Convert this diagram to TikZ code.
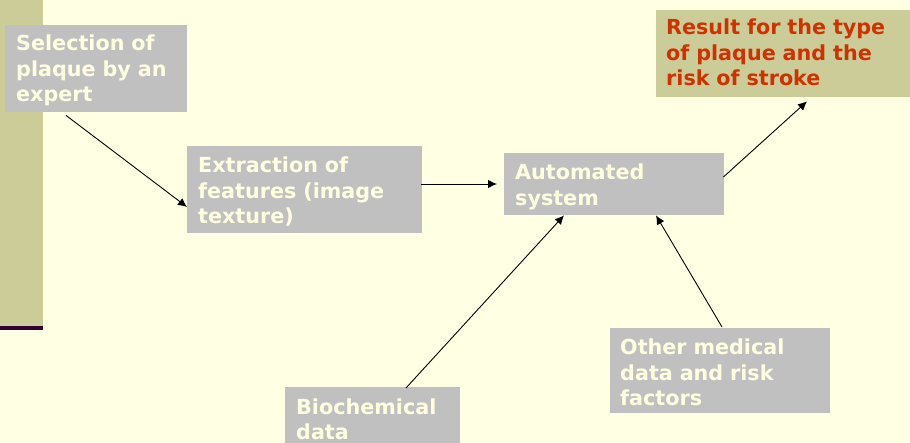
\documentclass[tikz,border=0pt]{standalone}
\usepackage{fontspec}
\setmainfont{DejaVu Sans}
\usetikzlibrary{arrows.meta,calc}
\definecolor{bgc}{HTML}{FFFFE3}
\definecolor{khaki}{HTML}{CCCC99}
\definecolor{greyb}{HTML}{C0C0C0}
\definecolor{cream}{HTML}{FFFFE0}
\definecolor{redt}{HTML}{CC3300}
\definecolor{purp}{HTML}{330033}
\tikzset{
  gbox/.style={draw=none,fill=greyb,inner sep=0pt,anchor=north west},
  kbox/.style={draw=none,fill=khaki,inner sep=0pt,anchor=north west},
  lbl/.style={anchor=base west,inner sep=0pt,text width=300pt,align=left,
    font=\fontsize{20.7}{25.5}\selectfont\bfseries,text=cream},
  rlbl/.style={lbl,text=redt},
  conn/.style={draw=black,line width=0.9pt,-{Latex[length=9pt,width=8.5pt]}}
}
\begin{document}
\begin{tikzpicture}[x=1pt,y=-1pt]
\fill[bgc] (0,0) rectangle (910,443);
\useasboundingbox (0,0) rectangle (910,443);
% left decoration
\fill[khaki] (0,0) rectangle (43,326);
\fill[purp] (0,326) rectangle (43,330.5);
% boxes
\node[gbox,minimum width=182pt,minimum height=87pt] (sel) at (5,25) {};
\node[gbox,minimum width=235pt,minimum height=87pt] (ext) at (187,146) {};
\node[gbox,minimum width=220pt,minimum height=62pt] (auto) at (504,153) {};
\node[kbox,minimum width=254pt,minimum height=87pt] (res) at (656,10) {};
\node[gbox,minimum width=175pt,minimum height=60pt] (bio) at (285,387) {};
\node[gbox,minimum width=220pt,minimum height=85pt] (oth) at (610,328) {};
% texts
\node[lbl] (selT) at (16,51) {Selection of\\plaque by an\\expert};
\node[lbl] (extT) at (198,173) {Extraction of\\features (image\\texture)};
\node[lbl] (autoT) at (515,180) {Automated\\system};
\node[rlbl] (resT) at (666,35) {Result for the type\\of plaque and the\\risk of stroke};
\node[lbl] (bioT) at (296,414) {Biochemical\\data};
\node[lbl] (othT) at (620,355) {Other medical\\data and risk\\factors};
% connectors
\draw[conn] ([shift={(61,3)}]sel.south west) -- ([shift={(0,61)}]ext.north west);
\draw[conn] ([shift={(-1,38)}]ext.north east) -- ([shift={(-7,31)}]auto.north west);
\draw[conn] ([shift={(121,1)}]bio.north west) -- ([shift={(60,0)}]auto.south west);
\draw[conn] ([shift={(112,-1)}]oth.north west) -- ([shift={(152,0)}]auto.south west);
\draw[conn] ([shift={(-1,24)}]auto.north east) -- ([shift={(151,4)}]res.south west);
\end{tikzpicture}
\end{document}
